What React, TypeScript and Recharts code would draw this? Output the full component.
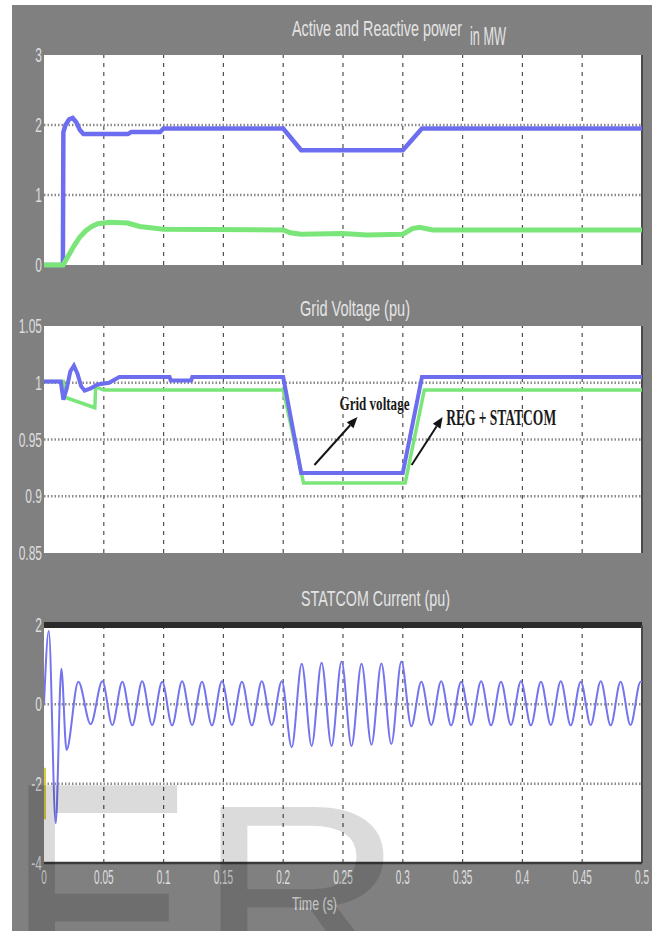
import React from 'react'
import { LineChart, Line, XAxis, YAxis, ReferenceLine, CartesianGrid } from 'recharts'

// shared time axis (s)
const timeTicks = [0, 0.05, 0.1, 0.15, 0.2, 0.25, 0.3, 0.35, 0.4, 0.45, 0.5]
const timeTickLabels = ['0', '0.05', '0.1', '0.15', '0.2', '0.25', '0.3', '0.35', '0.4', '0.45', '0.5']

// active / reactive power in MW
const powerTicks = [0, 1, 2, 3]
const powerTickLabels = ['0', '1', '2', '3']
const activeT = [0, 0.0158, 0.0162, 0.018, 0.021, 0.024, 0.027, 0.03, 0.033, 0.07, 0.073, 0.097, 0.1, 0.2, 0.215, 0.3, 0.316, 0.5]
const activeP = [0, 0, 1.9, 2.0, 2.08, 2.1, 2.04, 1.93, 1.87, 1.87, 1.9, 1.9, 1.95, 1.95, 1.64, 1.64, 1.95, 1.95]
const reactiveT = [0, 0.016, 0.02, 0.025, 0.03, 0.035, 0.04, 0.045, 0.055, 0.07, 0.08, 0.1, 0.2, 0.206, 0.215, 0.25, 0.27, 0.3, 0.308, 0.314, 0.325, 0.5]
const reactiveQ = [0, 0, 0.12, 0.27, 0.4, 0.49, 0.55, 0.59, 0.61, 0.6, 0.55, 0.51, 0.5, 0.46, 0.44, 0.45, 0.43, 0.44, 0.52, 0.54, 0.5, 0.5]

// grid voltage in pu
const voltTicks = [0.85, 0.9, 0.95, 1, 1.05]
const voltTickLabels = ['0.85', '0.9', '0.95', '1', '1.05']
const statcomVT = [0, 0.014, 0.0162, 0.019, 0.022, 0.025, 0.028, 0.031, 0.034, 0.039, 0.0447, 0.0544, 0.063, 0.105, 0.106, 0.123, 0.124, 0.2, 0.215, 0.3, 0.316, 0.5]
const statcomV = [1.001, 1.001, 0.985, 0.995, 1.01, 1.015, 1.008, 0.997, 0.993, 0.995, 0.9985, 1.0, 1.005, 1.005, 1.002, 1.002, 1.005, 1.005, 0.9205, 0.9205, 1.005, 1.005]
const gridVT = [0, 0.0162, 0.0168, 0.0425, 0.0432, 0.05, 0.2, 0.217, 0.302, 0.318, 0.5]
const gridV = [1.001, 1.001, 0.9875, 0.978, 0.9963, 0.9936, 0.9936, 0.9117, 0.9117, 0.9936, 0.9936]

// STATCOM current in pu, peaks and troughs of the 60 Hz wave
const currentTicks = [-4, -2, 0, 2]
const currentTickLabels = ['-4', '-2', '0', '2']
const currentT = [
  0, 0.004, 0.0098, 0.0145, 0.0188, 0.0287, 0.039,
  0.0488, 0.0571, 0.0655, 0.0738, 0.0821, 0.0904, 0.0988, 0.1071, 0.1155, 0.1238,
  0.1321, 0.1404, 0.1488, 0.1571, 0.1655, 0.1738, 0.1821, 0.1904, 0.1988, 0.2071,
  0.2155, 0.2238, 0.2321, 0.2404, 0.2488, 0.2571, 0.2655, 0.2738, 0.2821, 0.2904,
  0.2988, 0.3071, 0.3155, 0.3238, 0.3321, 0.3404, 0.3488, 0.3571, 0.3655, 0.3738,
  0.3821, 0.3904, 0.3988, 0.4071, 0.4155, 0.4238, 0.4321, 0.4404, 0.4488, 0.4571,
  0.4655, 0.4738, 0.4821, 0.4904, 0.4988, 0.5,
]
const currentI = [
  0, 1.85, -3.0, 0.9, -1.15, 0.57, -0.5,
  0.58, -0.52, 0.57, -0.53, 0.58, -0.52, 0.57, -0.53, 0.58, -0.52,
  0.57, -0.53, 0.58, -0.52, 0.57, -0.53, 0.58, -0.52, 0.58, -1.08,
  1.02, -1.05, 1.05, -1.05, 1.08, -1.05, 1.02, -1.02, 1.03, -1.0,
  1.08, -0.55, 0.57, -0.52, 0.58, -0.53, 0.57, -0.52, 0.58, -0.53,
  0.57, -0.52, 0.58, -0.53, 0.57, -0.52, 0.58, -0.53, 0.57, -0.52,
  0.58, -0.53, 0.57, -0.52, 0.57, 0.56,
]
const startT = [0.0008, 0.0008]
const startI = [-1.6, -2.9]

const pts = (t: number[], v: number[]) => t.map((x, i) => ({ t: x, v: v[i] }))

const BG = '#808080'
const LABEL = '#dedede'
const SANS = "'Liberation Sans', Arial, sans-serif"
const BLUE = '#6d6def'
const GREEN = '#7ae67a'

function yTick(ticks: number[], labels: string[]) {
  return (p: any) => (
    <g transform={`translate(${p.x},${p.y}) scale(0.6,1)`}>
      <text textAnchor='end' dy={7} fontSize={20} fill={LABEL} fontFamily={SANS}>
        {labels[ticks.indexOf(p.payload.value)]}
      </text>
    </g>
  )
}

function xTick(p: any) {
  return (
    <g transform={`translate(${p.x},${p.y}) scale(0.5,1)`}>
      <text textAnchor='middle' dy={21} fontSize={20} fill={LABEL} fontFamily={SANS}>
        {timeTickLabels[timeTicks.indexOf(p.payload.value)]}
      </text>
    </g>
  )
}

function arrow(text: string, dx: number, dy: number, size: number, len: number) {
  return (p: any) => {
    const { x1, y1, x2, y2 } = p
    const a = Math.atan2(y2 - y1, x2 - x1)
    const bx = x2 - 11 * Math.cos(a)
    const by = y2 - 11 * Math.sin(a)
    const s = Math.sin(a) * 4.5
    const c = Math.cos(a) * 4.5
    return (
      <g>
        <line x1={x1} y1={y1} x2={bx} y2={by} stroke='#151515' strokeWidth={2} />
        <polygon points={`${x2},${y2} ${bx + s},${by - c} ${bx - s},${by + c}`} fill='#151515' />
        <text x={x2 + dx} y={y2 + dy} fontSize={size} fill='#1a1a1a' fontWeight='bold'
          fontFamily="'Liberation Serif', 'Times New Roman', serif"
          textLength={len} lengthAdjust='spacingAndGlyphs'>{text}</text>
      </g>
    )
  }
}

const inner = timeTicks.slice(1, -1)
const vGrid = inner.map((t) => (
  <ReferenceLine key={'v' + t} x={t} stroke='#505050' strokeWidth={1.2} strokeDasharray='4 5' />
))
const hGrid = (rows: number[]) => rows.map((y) => (
  <ReferenceLine key={'h' + y} y={y} stroke='#8a8a8a' strokeWidth={2.5} strokeDasharray='1.5 2' />
))

const frame = { stroke: '#3a3a3a', strokeWidth: 2.5 }
const plotBg = <CartesianGrid horizontal={false} vertical={false} fill='#ffffff' fillOpacity={1} />

export default function App() {
  return (
    <div style={{ position: 'absolute', left: 12, top: 5, width: 640, height: 926, background: BG, overflow: 'hidden' }}>
      <LineChart width={640} height={270} margin={{ top: 50, right: 10, bottom: 10, left: 0 }}
        style={{ position: 'absolute', left: 0, top: 0 }}>
        {plotBg}
        <XAxis type='number' dataKey='t' domain={[0, 0.5]} ticks={timeTicks} tick={false} tickLine={false} height={0} axisLine={frame} allowDataOverflow />
        <YAxis type='number' domain={[0, 3]} ticks={powerTicks} interval={0} width={32} axisLine={false} tickLine={false} tickSize={0} tickMargin={2} tick={yTick(powerTicks, powerTickLabels)} />
        {vGrid}
        {hGrid([1, 2])}
        <ReferenceLine x={0.5} stroke='#4a4a4a' strokeWidth={2} />
        <Line data={pts(activeT, activeP)} dataKey='v' type='linear' stroke={BLUE} strokeWidth={4.5} dot={false} isAnimationActive={false} />
        <Line data={pts(reactiveT, reactiveQ)} dataKey='v' type='linear' stroke={GREEN} strokeWidth={5} dot={false} isAnimationActive={false} />
      </LineChart>

      <LineChart width={640} height={258} margin={{ top: 21, right: 10, bottom: 10, left: 0 }}
        style={{ position: 'absolute', left: 0, top: 300 }}>
        {plotBg}
        <XAxis type='number' dataKey='t' domain={[0, 0.5]} ticks={timeTicks} tick={false} tickLine={false} height={0} axisLine={frame} allowDataOverflow />
        <YAxis type='number' domain={[0.85, 1.05]} ticks={voltTicks} interval={0} width={32} axisLine={false} tickLine={false} tickSize={0} tickMargin={2} tick={yTick(voltTicks, voltTickLabels)} />
        {vGrid}
        {hGrid([0.9, 0.95, 1])}
        <ReferenceLine x={0.5} stroke='#4a4a4a' strokeWidth={2} />
        <Line data={pts(gridVT, gridV)} dataKey='v' type='linear' stroke={GREEN} strokeWidth={3.5} dot={false} isAnimationActive={false} />
        <Line data={pts(statcomVT, statcomV)} dataKey='v' type='linear' stroke={BLUE} strokeWidth={4} dot={false} isAnimationActive={false} />
        <ReferenceLine segment={[{ x: 0.2261, y: 0.9275 }, { x: 0.2621, y: 0.9698 }]} shape={arrow('Grid voltage', -18, -7, 19, 70)} />
        <ReferenceLine segment={[{ x: 0.3074, y: 0.9275 }, { x: 0.3333, y: 0.9698 }]} shape={arrow('REG + STATCOM', 3.5, 8, 24, 110)} />
      </LineChart>

      <LineChart width={640} height={326} margin={{ top: 20, right: 10, bottom: 38, left: 0 }}
        style={{ position: 'absolute', left: 0, top: 600 }}>
        {plotBg}
        <XAxis type='number' dataKey='t' domain={[0, 0.5]} ticks={timeTicks} interval={0} tickLine={false} tickSize={0} tickMargin={0} height={30} axisLine={frame} tick={xTick} allowDataOverflow />
        <YAxis type='number' domain={[-4, 2]} ticks={currentTicks} interval={0} width={32} axisLine={false} tickLine={false} tickSize={0} tickMargin={2} tick={yTick(currentTicks, currentTickLabels)} />
        {vGrid}
        {hGrid([-2, 0])}
        <ReferenceLine y={2} stroke='#2b2b2b' strokeWidth={6} />
        <ReferenceLine x={0.5} stroke='#4a4a4a' strokeWidth={2} />
        <Line data={pts(startT, startI)} dataKey='v' type='linear' stroke='#d8cc3a' strokeWidth={2} dot={false} isAnimationActive={false} />
        <Line data={pts(currentT, currentI)} dataKey='v' type='monotone' stroke='#7474ee' strokeWidth={2} dot={false} isAnimationActive={false} />
      </LineChart>

      <svg width={640} height={926} style={{ position: 'absolute', left: 0, top: 0, pointerEvents: 'none' }}>
        <g fill='#e4e4e4' fontFamily={SANS}>
          <text x={280} y={31} fontSize={22} textLength={170} lengthAdjust='spacingAndGlyphs'>Active and Reactive power</text>
          <text x={458} y={40} fontSize={25} textLength={36} lengthAdjust='spacingAndGlyphs'>in MW</text>
          <text x={288} y={311} fontSize={22} textLength={110} lengthAdjust='spacingAndGlyphs'>Grid Voltage  (pu)</text>
          <text x={289} y={601} fontSize={22} textLength={149} lengthAdjust='spacingAndGlyphs'>STATCOM Current  (pu)</text>
          <text x={280} y={905} fontSize={18} textLength={45} lengthAdjust='spacingAndGlyphs'>Time (s)</text>
        </g>
        <g fill='#000000' fillOpacity={0.14} fontFamily={SANS}>
          <text transform='translate(-7,1032) scale(0.95,1.22)' fontSize={300}>E</text>
          <text transform='translate(185,974) scale(1.15,1)' fontSize={250}>R</text>
        </g>
      </svg>
    </div>
  )
}
